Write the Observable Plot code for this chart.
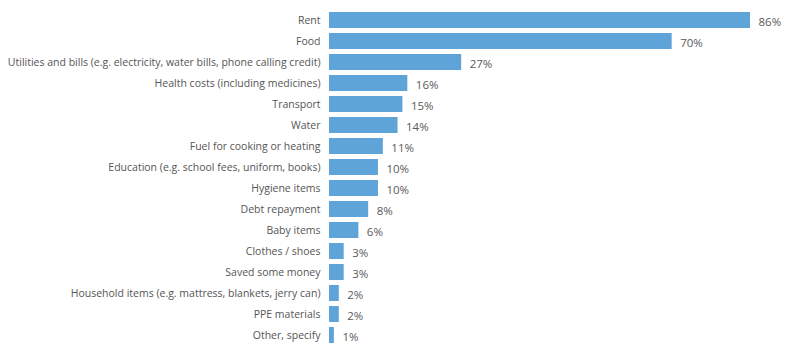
<!DOCTYPE html>
<html>
<head>
<meta charset="utf-8">
<script src="https://cdn.jsdelivr.net/npm/d3@7"></script>
<script src="https://cdn.jsdelivr.net/npm/@observablehq/plot@0.6"></script>
<style>
  html, body { margin: 0; padding: 0; background: #fff; }
  #chart svg { display: block; }
</style>
</head>
<body>
<div id="chart"></div>
<script>
const categories = [
  "Rent",
  "Food",
  "Utilities and bills (e.g. electricity, water bills, phone calling credit)",
  "Health costs (including medicines)",
  "Transport",
  "Water",
  "Fuel for cooking or heating",
  "Education (e.g. school fees, uniform, books)",
  "Hygiene items",
  "Debt repayment",
  "Baby items",
  "Clothes / shoes",
  "Saved some money",
  "Household items (e.g. mattress, blankets, jerry can)",
  "PPE materials",
  "Other, specify"
];
const values = [86, 70, 27, 16, 15, 14, 11, 10, 10, 8, 6, 3, 3, 2, 2, 1];

const data = categories.map((c, i) => ({category: c, value: values[i]}));

const chart = Plot.plot({
  width: 798,
  height: 351,
  marginLeft: 329,
  marginRight: 48,
  marginTop: 7,
  marginBottom: 3,
  style: {fontFamily: "'Open Sans', sans-serif", fontSize: "10.5px", color: "#555"},
  x: {domain: [0, 86], axis: null},
  y: {domain: categories, padding: 0.25, paddingOuter: 0.125, axis: null},
  marks: [
    Plot.barX(data, {x: "value", y: "category", fill: "#5fa4d8"}),
    Plot.text(data, {x: 0, y: "category", text: "category", textAnchor: "end", dx: -9, fill: "#555"}),
    Plot.text(data, {x: "value", y: "category", text: d => d.value + "%", textAnchor: "start", dx: 8, dy: 2, fill: "#5a5a5a", fontSize: 11.5})
  ]
});
document.getElementById("chart").appendChild(chart);
</script>
</body>
</html>
